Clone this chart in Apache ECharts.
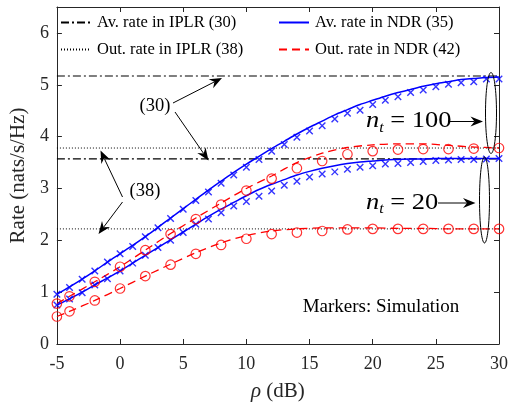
<!DOCTYPE html>
<html>
<head>
<meta charset="utf-8">
<script src="https://cdn.jsdelivr.net/npm/echarts@6/dist/echarts.min.js"></script>
<style>
  html, body { margin: 0; padding: 0; background: #fff; }
  #chart { width: 511px; height: 407px; }
</style>
</head>
<body>
<div id="chart"></div>
<script>
// SNR grid (dB) for the analytical curves and the crosses
const snrFine = [-5,-4,-3,-2,-1,0,1,2,3,4,5,6,7,8,9,10,11,12,13,14,15,16,17,18,19,20,21,22,23,24,25,26,27,28,29,30];
// SNR grid (dB) for the outage-rate curves and circles
const snrOut = [-5,-4,-2,0,2,4,6,8,10,12,14,16,18,20,22,24,26,28,30];

// IPLR limits: average rate (30) and outage rate (38), for n_t = 100 and n_t = 20
const avIplr = [5.17, 3.57];
const outIplr = [3.78, 2.22];

// Average rate in NDR (35), analytical
const avNdr100 = [0.96,1.10,1.25,1.41,1.58,1.74,1.90,2.07,2.25,2.43,2.61,2.79,2.97,3.14,3.31,3.47,3.62,3.77,3.91,4.05,4.18,4.30,4.42,4.52,4.62,4.70,4.78,4.85,4.91,4.97,5.02,5.06,5.10,5.12,5.14,5.15];
const avNdr20  = [0.75,0.87,1.00,1.14,1.27,1.41,1.56,1.71,1.86,2.01,2.16,2.31,2.46,2.60,2.73,2.86,2.98,3.08,3.17,3.26,3.33,3.39,3.44,3.48,3.51,3.53,3.55,3.56,3.57,3.57,3.58,3.58,3.58,3.58,3.58,3.58];
// Average rate, simulation
const simAv100 = [0.96,1.09,1.25,1.41,1.58,1.74,1.88,2.07,2.24,2.42,2.60,2.77,2.93,3.10,3.26,3.41,3.56,3.72,3.85,3.99,4.11,4.21,4.34,4.45,4.51,4.62,4.70,4.77,4.85,4.90,4.96,5.01,5.04,5.06,5.11,5.11];
const simAv20  = [0.75,0.87,0.99,1.14,1.26,1.41,1.56,1.71,1.86,2.00,2.15,2.31,2.41,2.53,2.66,2.75,2.85,2.95,3.06,3.14,3.22,3.28,3.32,3.37,3.41,3.44,3.47,3.48,3.50,3.52,3.54,3.55,3.56,3.56,3.57,3.58];

// Outage rate in NDR (42), analytical
const outNdr100 = [0.78,0.92,1.20,1.49,1.81,2.13,2.43,2.72,3.00,3.24,3.50,3.68,3.79,3.84,3.86,3.86,3.83,3.80,3.78];
const outNdr20  = [0.53,0.63,0.84,1.07,1.31,1.54,1.76,1.95,2.09,2.18,2.22,2.24,2.24,2.24,2.23,2.23,2.22,2.22,2.22];
// Outage rate, simulation
const simOut100 = [0.78,0.92,1.20,1.49,1.81,2.12,2.41,2.69,2.96,3.19,3.39,3.53,3.66,3.72,3.75,3.76,3.76,3.77,3.78];
const simOut20  = [0.53,0.63,0.84,1.07,1.31,1.53,1.74,1.91,2.03,2.12,2.15,2.18,2.21,2.22,2.22,2.22,2.22,2.22,2.22];

const xTicks = { min: -5, max: 30, step: 5 };
const yTicks = { min: 0, max: 6.5, step: 1 };

const FONT = 'Liberation Serif';
const INK = '#262626';
const BLUE = '#0000ff';
const RED = '#ff0000';
const DASHDOT = [8, 3, 2, 3];

const zip = (xs, ys) => xs.map((x, i) => [x, ys[i]]);
const flat = (v) => [[xTicks.min, v], [xTicks.max, v]];

const crossPath = 'path://M0,0L10,10M10,0L0,10';

function lineSeries(name, data, color, width, type, smooth) {
  return {
    name, type: 'line', data, showSymbol: false, symbol: 'none',
    smooth: smooth || false, silent: true, animation: false,
    lineStyle: { color, width, type },
    itemStyle: { color },
    z: 3
  };
}
function crossSeries(data) {
  return {
    type: 'scatter', data, symbol: crossPath, symbolSize: 6.5, clip: false,
    animation: false, silent: true,
    itemStyle: { color: 'transparent', borderColor: BLUE, borderWidth: 1.4 },
    z: 4
  };
}
function circleSeries(data) {
  return {
    type: 'scatter', data, symbol: 'circle', symbolSize: 9.5, clip: false,
    animation: false, silent: true,
    itemStyle: { color: 'transparent', borderColor: RED, borderWidth: 1.2 },
    z: 4
  };
}

const series = [
  lineSeries('Av. rate in IPLR (30)', flat(avIplr[0]), '#000', 1.1, DASHDOT),
  lineSeries('Av. rate in IPLR (30)', flat(avIplr[1]), '#000', 1.1, DASHDOT),
  lineSeries('Out. rate in IPLR (38)', flat(outIplr[0]), '#000', 1, [1, 2]),
  lineSeries('Out. rate in IPLR (38)', flat(outIplr[1]), '#000', 1, [1, 2]),
  lineSeries('Av. rate in NDR (35)', zip(snrFine, avNdr100), BLUE, 1.5, 'solid', 0.3),
  lineSeries('Av. rate in NDR (35)', zip(snrFine, avNdr20), BLUE, 1.5, 'solid', 0.3),
  lineSeries('Out. rate in NDR (42)', zip(snrOut, outNdr100), RED, 1.3, [8, 5], 0.3),
  lineSeries('Out. rate in NDR (42)', zip(snrOut, outNdr20), RED, 1.3, [8, 5], 0.3),
  crossSeries(zip(snrFine, simAv100)),
  crossSeries(zip(snrFine, simAv20)),
  circleSeries(zip(snrOut, simOut100)),
  circleSeries(zip(snrOut, simOut20))
];

// Arrow made of a shaft and a filled stealth head ending at (x2, y2)
function arrow(x1, y1, x2, y2) {
  const a = Math.atan2(y2 - y1, x2 - x1);
  const c = Math.cos(a), s = Math.sin(a);
  const L = 12.5, W = 5, B = 8.5;
  const bx = x2 - L * c, by = y2 - L * s;
  return [
    { type: 'line', silent: true, z: 10,
      shape: { x1, y1, x2: x2 - B * c, y2: y2 - B * s },
      style: { stroke: '#000', lineWidth: 1 } },
    { type: 'polygon', silent: true, z: 10,
      shape: { points: [[x2, y2], [bx - W * s, by + W * c], [x2 - B * c, y2 - B * s], [bx + W * s, by - W * c]] },
      style: { fill: '#000' } }
  ];
}
function label(text, x, y, font, extra) {
  return {
    type: 'text', x, y, silent: true, z: 10,
    style: Object.assign({ text, font, fill: '#000',
      textAlign: 'center', textVerticalAlign: 'middle' }, extra || {})
  };
}
// "n_t = value" with an italic n and a subscript t
function ntLabel(x, y, value) {
  return {
    type: 'group', x, y, scaleX: 1.15, silent: true, z: 10,
    children: [
      label('n', 0, 0, 'italic 23px "' + FONT + '"', { textAlign: 'left' }),
      label('t', 11.5, 7, 'italic 14px "' + FONT + '"', { textAlign: 'left' }),
      label('= ' + value, 21, 0, '23px "' + FONT + '"', { textAlign: 'left' })
    ]
  };
}

const graphics = [].concat(
  label('(30)', 155, 106.5, '18.5px "' + FONT + '"'),
  arrow(173, 103, 222, 78),
  arrow(175, 112, 208.5, 160.5),
  label('(38)', 145, 191.5, '18.5px "' + FONT + '"'),
  arrow(122.5, 197, 100.5, 150.5),
  arrow(122.5, 202, 98.5, 234),
  ntLabel(366, 121, '100'),
  arrow(449, 121.5, 483, 121.5),
  ntLabel(366, 202.5, '20'),
  arrow(438, 203, 475.5, 203),
  [
    { type: 'ellipse', silent: true, z: 10, shape: { cx: 491, cy: 113, rx: 5.5, ry: 40.5 },
      style: { stroke: '#000', lineWidth: 1, fill: 'none' } },
    { type: 'ellipse', silent: true, z: 10, shape: { cx: 484.5, cy: 200, rx: 5, ry: 43 },
      style: { stroke: '#000', lineWidth: 1, fill: 'none' } }
  ],
  label('Markers: Simulation', 381, 307.5, '19px "' + FONT + '"')
);

const legendBase = {
  orient: 'vertical', top: 14, padding: 0, itemWidth: 30, itemHeight: 14, itemGap: 10,
  selectedMode: false,
  itemStyle: { opacity: 0 },
  textStyle: { fontFamily: FONT, fontSize: 16.5, color: '#000', padding: [0, 0, 0, 1] }
};

const axisCommon = {
  axisLine: { show: true, onZero: false, lineStyle: { color: INK, width: 1 } },
  axisTick: { show: true, inside: true, length: 5, lineStyle: { color: INK } },
  splitLine: { show: false }
};

const option = {
  animation: false,
  backgroundColor: '#fff',
  grid: { left: 52, right: 9, top: 7, bottom: 58 },
  legend: [
    Object.assign({}, legendBase, { left: 60, data: ['Av. rate in IPLR (30)', 'Out. rate in IPLR (38)'] }),
    Object.assign({}, legendBase, { left: 278, data: ['Av. rate in NDR (35)', 'Out. rate in NDR (42)'] })
  ],
  xAxis: [
    Object.assign({}, axisCommon, {
      type: 'value', min: xTicks.min, max: xTicks.max, interval: xTicks.step, position: 'bottom',
      axisLabel: { fontFamily: FONT, fontSize: 18, color: INK, margin: 11 },
      name: '{i|ρ} (dB)', nameLocation: 'middle', nameGap: 37,
      nameTextStyle: { fontFamily: FONT, fontSize: 21, color: INK,
        rich: { i: { fontFamily: FONT, fontSize: 21, fontStyle: 'italic', color: INK } } }
    }),
    Object.assign({}, axisCommon, {
      type: 'value', min: xTicks.min, max: xTicks.max, interval: xTicks.step, position: 'top',
      axisLabel: { show: false }
    })
  ],
  yAxis: [
    Object.assign({}, axisCommon, {
      type: 'value', min: yTicks.min, max: yTicks.max, interval: yTicks.step, position: 'left',
      axisLabel: { fontFamily: FONT, fontSize: 18, color: INK, margin: 8, showMaxLabel: false },
      name: 'Rate (nats/s/Hz)', nameLocation: 'middle', nameGap: 20,
      nameTextStyle: { fontFamily: FONT, fontSize: 21, color: INK }
    }),
    Object.assign({}, axisCommon, {
      type: 'value', min: yTicks.min, max: yTicks.max, interval: yTicks.step, position: 'right',
      axisLabel: { show: false }
    })
  ],
  series,
  graphic: graphics
};

const chart = echarts.init(document.getElementById('chart'), null, { renderer: 'canvas' });
chart.setOption(option);
</script>
</body>
</html>
